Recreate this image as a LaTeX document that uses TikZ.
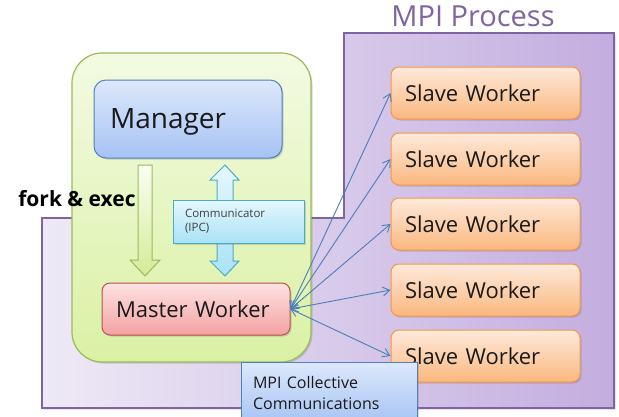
\documentclass[tikz,border=0pt]{standalone}
\usepackage{fontspec}
\setmainfont{Open Sans}
\usetikzlibrary{arrows.meta,shadows}

\definecolor{mpiedge}{HTML}{8064A2}
\definecolor{mpileft}{HTML}{EEE9F6}
\definecolor{mpiright}{HTML}{C3ADDF}
\definecolor{hostedge}{HTML}{9BBB59}
\definecolor{hosttop}{HTML}{F3FAE2}
\definecolor{hostbot}{HTML}{DAF1A4}
\definecolor{forktop}{HTML}{FBFDF2}
\definecolor{forkbot}{HTML}{D3EC98}
\definecolor{blueedge}{HTML}{4F81BD}
\definecolor{bluetop}{HTML}{DDE8FB}
\definecolor{bluebot}{HTML}{A6C3F4}
\definecolor{rededge}{HTML}{C0504D}
\definecolor{redtop}{HTML}{FDE2E2}
\definecolor{redbot}{HTML}{F3A2A2}
\definecolor{orangeedge}{HTML}{F79646}
\definecolor{orangetop}{HTML}{FEEADB}
\definecolor{orangebot}{HTML}{FAB77E}
\definecolor{cyanedge}{HTML}{4BACC6}
\definecolor{cyantop}{HTML}{E6F7FD}
\definecolor{cyanbot}{HTML}{A9E2F6}
\definecolor{linkcol}{HTML}{4A7EBB}
\definecolor{textcol}{HTML}{1A1A1A}

\tikzset{
  softshadow/.style={drop shadow={shadow xshift=1.5pt, shadow yshift=-1.5pt, opacity=0.25, fill=black!60}},
  boxbase/.style={draw, line width=1pt, align=left, anchor=center, text=textcol, softshadow},
  managerbox/.style={boxbase, draw=blueedge, top color=bluetop, bottom color=bluebot,
    rounded corners=12pt, minimum width=188pt, minimum height=78pt, text depth=0pt,
    inner xsep=16pt, text width=156pt, font=\fontsize{28}{32}\selectfont},
  masterbox/.style={boxbase, draw=rededge, top color=redtop, bottom color=redbot,
    rounded corners=8pt, minimum width=188pt, minimum height=52pt,
    inner xsep=14pt, text width=160pt, font=\fontsize{22}{26}\selectfont},
  slavebox/.style={boxbase, draw=orangeedge, top color=orangetop, bottom color=orangebot,
    rounded corners=8pt, minimum width=189pt, minimum height=52pt,
    inner xsep=14pt, text width=161pt, font=\fontsize{22}{26}\selectfont},
  commbox/.style={boxbase, draw=cyanedge, top color=cyantop, bottom color=cyanbot,
    rounded corners=0pt, minimum width=131pt, minimum height=43pt,
    inner xsep=12pt, text width=107pt, text=black!75, font=\fontsize{11.5}{14}\selectfont},
  collbox/.style={boxbase, draw=blueedge, top color=bluetop, bottom color=bluebot,
    rounded corners=0pt, minimum width=176pt, minimum height=62pt,
    inner xsep=12pt, text width=152pt, font=\fontsize{16}{21}\selectfont},
  hostbox/.style={draw=hostedge, line width=1.2pt, top color=hosttop, bottom color=hostbot,
    rounded corners=30pt, minimum width=239pt, minimum height=309pt, softshadow},
  link/.style={draw=linkcol, line width=0.9pt,
    {Straight Barb[length=7pt,width=9pt]}-{Straight Barb[length=7pt,width=9pt]}},
}

\begin{document}
\begin{tikzpicture}[x=1pt,y=-1pt]
\useasboundingbox (0,0) rectangle (619,416);
\fill[white] (0,0) rectangle (619,416);

% MPI process region (L-shaped)
\path[draw=mpiedge, line width=1.2pt, left color=mpileft, right color=mpiright, softshadow]
  (42,218) -- (344,218) -- (344,33) -- (614,33) -- (614,408) -- (42,408) -- cycle;
\node[text=mpiedge, font=\fontsize{29}{32}\selectfont] (mpititle) at (473,16) {MPI Process};

% host process container
\node[hostbox] (host) at (191.5,207.5) {};

% fork & exec block arrow
\path[draw=hostedge, line width=1pt, top color=forktop, bottom color=forkbot]
  (138,165) -- (152,165) -- (152,260) -- (160,260) -- (145,276) -- (130,260) -- (138,260) -- cycle;

% IPC double block arrow
\path[draw=cyanedge, line width=1pt, top color=cyantop, bottom color=cyanbot]
  (225,165) -- (239,180) -- (233,180) -- (233,261) -- (239,261) -- (225,276)
  -- (210,261) -- (217,261) -- (217,180) -- (210,180) -- cycle;

\node[managerbox] (manager) at (188,119) {Manager};
\node[commbox] (comm) at (238.5,221.5) {Communicator\\(IPC)};
\node[masterbox] (master) at (196,309) {Master Worker};

\node[slavebox] (s1) at (485.5,93) {Slave Worker};
\node[slavebox] (s2) at (485.5,159) {Slave Worker};
\node[slavebox] (s3) at (485.5,224) {Slave Worker};
\node[slavebox] (s4) at (485.5,290) {Slave Worker};
\node[slavebox] (s5) at (485.5,356) {Slave Worker};

\node[font=\bfseries\fontsize{21}{24}\selectfont, text=black] (fork) at (77,199) {fork \& exec};

\foreach \s in {s1,s2,s3,s4,s5}
  \path[link] (master.east) -- (\s.west);

\node[collbox] (coll) at (329,393) {MPI Collective\\Communications};
\end{tikzpicture}
\end{document}
